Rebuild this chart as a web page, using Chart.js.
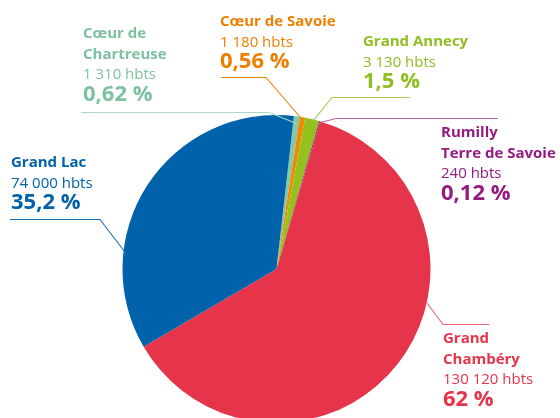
<!DOCTYPE html>
<html>
<head>
<meta charset="utf-8">
<script src="https://cdn.jsdelivr.net/npm/chart.js@4/dist/chart.umd.min.js"></script>
<style>
  html, body { margin: 0; padding: 0; background: #fff; overflow: hidden; }
  canvas { display: block; }
</style>
</head>
<body>
<canvas id="pie" width="560" height="440"></canvas>
<script>
// intercommunalités, clockwise from the top
const communes = [
    ['Cœur de', 'Chartreuse'],
    ['Cœur de Savoie'],
    ['Grand Annecy'],
    ['Rumilly', 'Terre de Savoie'],
    ['Grand', 'Chambéry'],
    ['Grand Lac']
];
const habitants = [1310, 1180, 3130, 240, 130120, 74000];
const parts = ['0,62 %', '0,56 %', '1,5 %', '0,12 %', '62 %', '35,2 %'];
const couleurs = ['#84c8a9', '#f08a00', '#95c11f', '#951b81', '#e6354b', '#0062ab'];
const texteCouleurs = ['#7cc29f', '#ee7f00', '#8fbe22', '#951b81', '#e6354b', '#0062ab'];
const traitCouleurs = ['#a9d9c1', '#ee7f00', '#a9cf4f', '#b262a6', '#ea6575', '#1f6fb3'];

// label placement: text origin, leader elbow + end, anchor on the arc
const placement = [
    { x: 83,  y: 38,  elbow: [269, 112], end: [81, 112],  frac: 0.5, rf: 0.955 },
    { x: 220, y: 26,  elbow: [266, 77],  end: [221, 77],  frac: 0.5, rf: 0.985 },
    { x: 363, y: 46,  elbow: [332, 97],  end: [410, 97],  frac: 0.6, rf: 0.995 },
    { x: 441, y: 137, elbow: [336, 118], end: [498, 118], frac: 0.5, rf: 0.99 },
    { x: 443, y: 343, elbow: [443, 324], end: [489, 324], frac: 0.386, rf: 1.0 },
    { x: 11,  y: 167, elbow: [100, 219], end: [10, 219],  frac: 0.287, rf: 0.985 }
];

const fmt = n => String(n).replace(/\B(?=(\d{3})+(?!\d))/g, ' ');
const FONT = '"Open Sans", "DejaVu Sans", sans-serif';

const etiquettes = {
    id: 'etiquettes',
    afterDraw(chart) {
        const ctx = chart.ctx;
        const meta = chart.getDatasetMeta(0);
        ctx.save();
        meta.data.forEach((arc, i) => {
            const p = placement[i];
            const { x, y, startAngle, endAngle, outerRadius } =
                arc.getProps(['x', 'y', 'startAngle', 'endAngle', 'outerRadius'], true);
            const a = startAngle + (endAngle - startAngle) * p.frac;
            const ax = x + Math.cos(a) * outerRadius * p.rf;
            const ay = y + Math.sin(a) * outerRadius * p.rf;

            ctx.strokeStyle = traitCouleurs[i];
            ctx.lineWidth = 1.1;
            ctx.beginPath();
            ctx.moveTo(p.end[0], p.end[1] + 0.5);
            ctx.lineTo(p.elbow[0], p.elbow[1] + 0.5);
            ctx.lineTo(ax, ay);
            ctx.stroke();

            ctx.fillStyle = texteCouleurs[i];
            ctx.textAlign = 'left';
            ctx.textBaseline = 'alphabetic';
            let ly = p.y;
            ctx.font = 'bold 15px ' + FONT;
            communes[i].forEach(t => {
                ctx.fillText(t, p.x, ly);
                ly += 20.5;
            });
            ctx.font = '15px ' + FONT;
            ctx.fillText(fmt(habitants[i]) + ' hbts', p.x, ly);
            ly += 21.5;
            ctx.font = 'bold 22px ' + FONT;
            ctx.fillText(parts[i], p.x, ly);
        });
        ctx.restore();
    }
};

new Chart(document.getElementById('pie'), {
    type: 'pie',
    data: {
        labels: communes,
        datasets: [{
            data: habitants,
            backgroundColor: couleurs,
            borderWidth: 0
        }]
    },
    options: {
        responsive: false,
        devicePixelRatio: 1,
        animation: false,
        rotation: 6.5,
        layout: {
            padding: { left: 122.5, right: 129.5, top: 115, bottom: 17 }
        },
        plugins: {
            legend: { display: false },
            tooltip: { enabled: false }
        }
    },
    plugins: [etiquettes]
});
</script>
</body>
</html>
